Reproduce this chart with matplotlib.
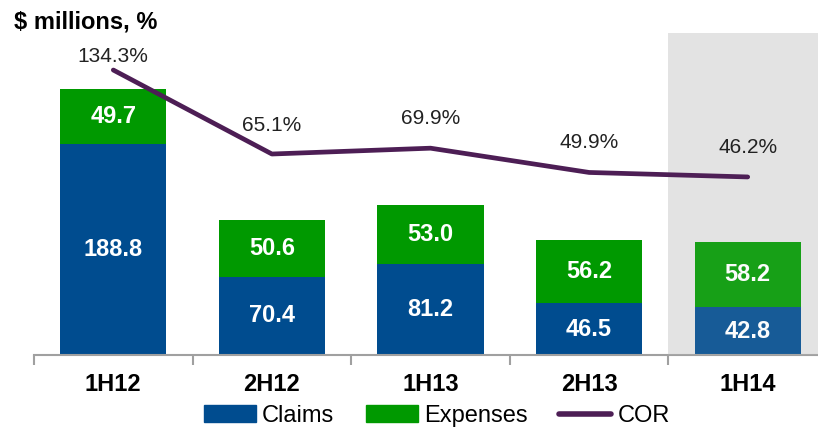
import numpy as np
import matplotlib
matplotlib.use('Agg')
import matplotlib.pyplot as plt
from matplotlib.patches import Patch
from matplotlib.lines import Line2D

plt.rcParams['font.family'] = ['Liberation Sans', 'DejaVu Sans']

periods  = ['1H12', '2H12', '1H13', '2H13', '1H14']
claims   = [188.8, 70.4, 81.2, 46.5, 42.8]
expenses = [49.7, 50.6, 53.0, 56.2, 58.2]
cor      = [134.3, 65.1, 69.9, 49.9, 46.2]

c_claims, c_exp, c_cor = '#004c8f', '#009900', '#4d1e55'
x = np.arange(len(periods))

fig = plt.figure(figsize=(8.18, 4.29), dpi=100)
ax = fig.add_axes([34/818, 74/429, 793/818, 322/429])
ax.set_xlim(-0.5, 4.5); ax.set_ylim(0, 288.8)

# shaded latest period: opaque gray behind, light veil on top
ax.axvspan(3.5, 4.5, color='#e3e3e3', zorder=0, lw=0)
ax.axvspan(3.5, 4.5, color='#e3e3e3', alpha=0.1, zorder=10, lw=0)

ax.bar(x, claims, 0.67, color=c_claims, zorder=2)
ax.bar(x, expenses, 0.67, bottom=claims, color=c_exp, zorder=2)
for i in range(len(x)):
    ax.text(x[i], claims[i]/2, f'{claims[i]:.1f}', ha='center', va='center',
            color='white', fontsize=17, fontweight='bold', zorder=3)
    ax.text(x[i], claims[i] + expenses[i]/2, f'{expenses[i]:.1f}', ha='center', va='center',
            color='white', fontsize=17, fontweight='bold', zorder=3)

ax2 = ax.twinx()
ax2.set_ylim(-100.5, 164.8)
ax2.plot(x, cor, color=c_cor, lw=3.4, solid_capstyle='round', zorder=4)
offs = [14, 29, 30, 30, 29]
for i in range(len(x)):
    ax2.annotate(f'{cor[i]:.1f}%', (x[i], cor[i]), xytext=(0, offs[i]*0.72),
                 textcoords='offset points', ha='center', va='center',
                 fontsize=15, color='#222222')
ax2.axis('off')

for s in ['top', 'left', 'right']:
    ax.spines[s].set_visible(False)
ax.spines['bottom'].set_color('#a0a0a0'); ax.spines['bottom'].set_linewidth(1.5)
ax.set_yticks([])
ax.set_xticks(x); ax.set_xticklabels(periods, fontsize=17, fontweight='bold')
ax.tick_params(axis='x', which='major', length=0, pad=13)
ax.set_xticks(np.arange(-0.5, 5, 1), minor=True)
ax.tick_params(axis='x', which='minor', length=7, width=1.5, color='#a0a0a0')

fig.text(14/818, 1 - 28/429, '$ millions, %', fontsize=17, fontweight='bold', va='baseline')

handles = [Patch(color=c_claims), Patch(color=c_exp),
           Line2D([0], [0], color=c_cor, lw=4, solid_capstyle='round')]
fig.legend(handles, ['Claims', 'Expenses', 'COR'], loc='center', ncol=3,
           bbox_to_anchor=(0.534, 1 - 416/429), frameon=False, fontsize=17,
           handlelength=2.2, handletextpad=0.26, columnspacing=1.35, borderpad=0)

plt.savefig('out.png', dpi=100)
